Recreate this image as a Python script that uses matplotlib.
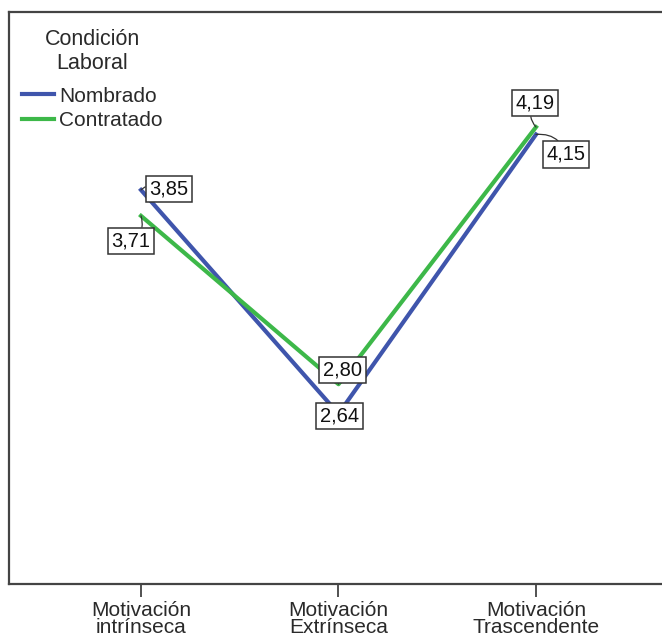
import matplotlib
matplotlib.use("Agg")
import matplotlib.pyplot as plt

plt.rcParams['font.family'] = ['Liberation Sans', 'DejaVu Sans']

categories = ["Motivación\nintrínseca", "Motivación\nExtrínseca", "Motivación\nTrascendente"]
nombrado = [3.85, 2.64, 4.15]
contratado = [3.71, 2.80, 4.19]
series_names = ["Nombrado", "Contratado"]
colors = ["#3F55AC", "#3DB849"]

W, H = 662, 637
fig = plt.figure(figsize=(W / 100, H / 100), dpi=100)

# axes box in pixels: left 9, top 12, bottom 584, right past the edge
left_px, top_px, bottom_px, right_px = 9, 12, 584, 675
ax = fig.add_axes([left_px / W, 1 - bottom_px / H,
                   (right_px - left_px) / W, (bottom_px - top_px) / H])

x = list(range(len(categories)))
ax.plot(x, nombrado, color=colors[0], lw=3.0, label=series_names[0])
ax.plot(x, contratado, color=colors[1], lw=3.0, label=series_names[1])

# category spacing ~197.5 px, first category at 141 px
step = 197.5
ax.set_xlim(-(141 - left_px) / step, (right_px - 141) / step)
ax.set_ylim(1.720, 4.812)

ax.set_xticks(x)
ax.set_xticklabels(categories, fontsize=15, color='#2a2a2a', linespacing=0.92)
ax.tick_params(axis='x', direction='out', length=9, width=1.2, color='#333333', pad=3)
ax.set_yticks([])
for side in ['left', 'bottom', 'top', 'right']:
    ax.spines[side].set_color('#444444')
    ax.spines[side].set_linewidth(1.6)

bbox = dict(boxstyle='square,pad=0.18', fc='white', ec='#333333', lw=1.1)
arrow = dict(arrowstyle='-', connectionstyle='arc3,rad=0.4', color='#333333', lw=0.9,
             shrinkA=0, shrinkB=0)

# label offsets (pixels) for each series/category
offsets_n = [(28, 1), (1, -2), (30, -20)]
offsets_c = [(-10, -25), (4, 14), (-1, 24)]

for xi, (v, off) in enumerate(zip(nombrado, offsets_n)):
    ax.annotate(f"{v:.2f}".replace('.', ','), xy=(xi, v), xytext=off,
                textcoords='offset pixels', ha='center', va='center',
                fontsize=14.5, color='#111111', bbox=bbox, arrowprops=arrow, zorder=5)
for xi, (v, off) in enumerate(zip(contratado, offsets_c)):
    ax.annotate(f"{v:.2f}".replace('.', ','), xy=(xi, v), xytext=off,
                textcoords='offset pixels', ha='center', va='center',
                fontsize=14.5, color='#111111', bbox=bbox, arrowprops=arrow, zorder=5)

leg = fig.legend(loc='upper left', bbox_to_anchor=(22 / W, 1 - 29 / H),
                 title="Condición\nLaboral", frameon=False, fontsize=15,
                 title_fontsize=15.5, handlelength=1.55, handletextpad=0.25,
                 labelspacing=0.25, borderpad=0, borderaxespad=0)
leg.get_title().set_multialignment('center')
leg.get_title().set_color('#2a2a2a')
for t in leg.get_texts():
    t.set_color('#2a2a2a')
leg._legend_box.sep = 9
for line in leg.get_lines():
    line.set_linewidth(3.0)

fig.savefig("out.png", dpi=100)
